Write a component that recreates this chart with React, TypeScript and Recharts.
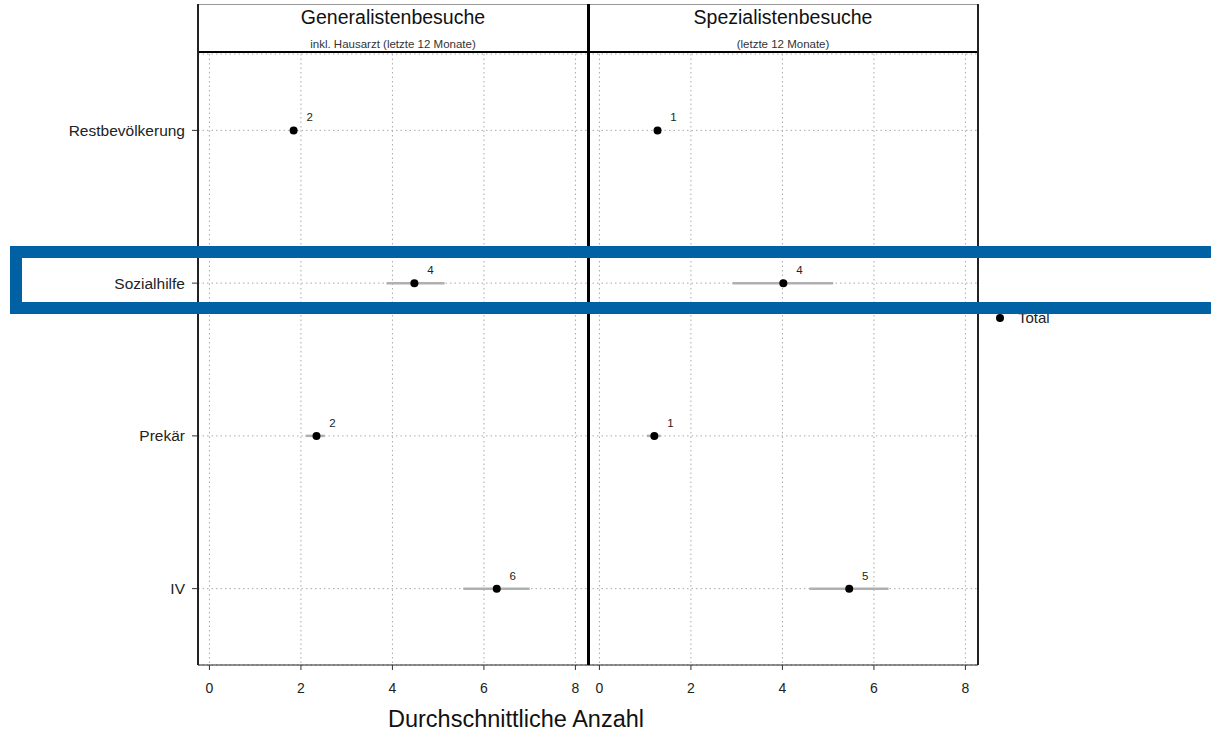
import React from 'react';
import {
  ScatterChart,
  Scatter,
  XAxis,
  YAxis,
  CartesianGrid,
  ErrorBar,
} from 'recharts';

// Groups shown top to bottom
const groups = ['Restbevölkerung', 'Sozialhilfe', 'Prekär', 'IV'];

// Generalist visits incl. GP (last 12 months): mean and interval bounds
const generalMean = [1.84, 4.48, 2.34, 6.28];
const generalLow = [1.8, 3.87, 2.1, 5.55];
const generalHigh = [1.88, 5.14, 2.52, 7.0];

// Specialist visits (last 12 months)
const specialMean = [1.27, 4.02, 1.2, 5.46];
const specialLow = [1.24, 2.91, 1.04, 4.59];
const specialHigh = [1.3, 5.11, 1.34, 6.32];

const xTicks = [0, 2, 4, 6, 8];
const rowTicks = [0, 1, 2, 3];

const FONT = '"Liberation Sans", Arial, sans-serif';
const PLOT_TOP = 54;
const PLOT_BOTTOM = 665;
const CHART_H = 735;

const buildRows = (mean: number[], low: number[], high: number[]) =>
  mean.map((m, i) => ({
    row: i,
    mean: m,
    err: [m - low[i], high[i] - m],
    label: Math.round(m),
  }));

const generalRows = buildRows(generalMean, generalLow, generalHigh);
const specialRows = buildRows(specialMean, specialLow, specialHigh);

const PointWithLabel = (props: any) => {
  const { cx, cy, payload } = props;
  if (cx == null || cy == null) return null;
  return (
    <g>
      <circle cx={cx} cy={cy} r={4} fill="#000" />
      <text
        x={cx + 16}
        y={cy - 9}
        textAnchor="middle"
        fontSize={11.5}
        fill="#222"
        fontFamily={FONT}
      >
        {payload.label}
      </text>
    </g>
  );
};

type PanelProps = {
  rows: ReturnType<typeof buildRows>;
  width: number;
  showGroups: boolean;
};

function Panel({ rows, width, showGroups }: PanelProps) {
  return (
    <ScatterChart
      width={width}
      height={CHART_H}
      margin={{ top: PLOT_TOP, right: 0, bottom: 0, left: 0 }}
    >
      <CartesianGrid stroke="#aaa" strokeDasharray="1.5 3" />
      <XAxis
        type="number"
        dataKey="mean"
        domain={[-0.25, 8.275]}
        ticks={xTicks}
        allowDataOverflow
        height={CHART_H - PLOT_BOTTOM}
        tickSize={5}
        tickMargin={13}
        axisLine={{ stroke: '#222' }}
        tickLine={{ stroke: '#333' }}
        tick={{ fill: '#222', fontSize: 14, fontFamily: FONT }}
      />
      <YAxis
        type="number"
        dataKey="row"
        domain={[-0.5, 3.5]}
        ticks={rowTicks}
        reversed
        allowDataOverflow
        hide={!showGroups}
        width={198}
        tickSize={6}
        tickMargin={7}
        axisLine={{ stroke: '#222' }}
        tickLine={{ stroke: '#333' }}
        tick={{ fill: '#222', fontSize: 15.5, fontFamily: FONT }}
        tickFormatter={(v: number) => groups[v]}
      />
      <Scatter data={rows} shape={PointWithLabel} isAnimationActive={false}>
        <ErrorBar
          dataKey="err"
          direction="x"
          width={0}
          stroke="#b0b0b0"
          strokeWidth={2.5}
          isAnimationActive={false}
        />
      </Scatter>
    </ScatterChart>
  );
}

const stripBox: React.CSSProperties = {
  position: 'absolute',
  top: 4,
  height: 49,
  boxSizing: 'border-box',
  borderTop: '1px solid #999',
  borderBottom: '2px solid #000',
  background: '#fff',
  textAlign: 'center',
  color: '#111',
};

function Strip({ left, width, title, sub }: { left: number; width: number; title: string; sub: string }) {
  return (
    <div style={{ ...stripBox, left, width }}>
      <div style={{ fontSize: 19.5, marginTop: 0, lineHeight: '24px' }}>{title}</div>
      <div style={{ fontSize: 11.5, marginTop: 9, lineHeight: '12px', color: '#333' }}>{sub}</div>
    </div>
  );
}

export default function App() {
  return (
    <div
      style={{
        position: 'fixed',
        left: 0,
        top: 0,
        width: 1211,
        height: 735,
        background: '#fff',
        overflow: 'hidden',
        fontFamily: FONT,
      }}
    >
      <div style={{ position: 'absolute', left: 0, top: 0 }}>
        <Panel rows={generalRows} width={588} showGroups />
      </div>
      <div style={{ position: 'absolute', left: 588, top: 0 }}>
        <Panel rows={specialRows} width={390} showGroups={false} />
      </div>

      <Strip left={198} width={390} title="Generalistenbesuche" sub="inkl. Hausarzt (letzte 12 Monate)" />
      <Strip left={588} width={390} title="Spezialistenbesuche" sub="(letzte 12 Monate)" />

      {/* panel frames */}
      <div style={{ position: 'absolute', left: 197, top: 4, width: 1.5, height: PLOT_BOTTOM - 4, background: '#222' }} />
      <div style={{ position: 'absolute', left: 587, top: 4, width: 2.5, height: PLOT_BOTTOM - 4, background: '#000' }} />
      <div style={{ position: 'absolute', left: 977, top: 4, width: 1.5, height: PLOT_BOTTOM - 4, background: '#222' }} />

      {/* legend */}
      <div style={{ position: 'absolute', left: 996, top: 309, display: 'flex', alignItems: 'center', fontSize: 15, color: '#222' }}>
        <span style={{ width: 8, height: 8, borderRadius: 4, background: '#000', display: 'inline-block', marginRight: 14 }} />
        <span>Total</span>
      </div>

      <div
        style={{
          position: 'absolute',
          top: 706,
          left: 388,
          fontSize: 23.5,
          color: '#111',
          whiteSpace: 'nowrap',
        }}
      >
        Durchschnittliche Anzahl
      </div>

      {/* highlight frame around the Sozialhilfe row */}
      <div
        style={{
          position: 'absolute',
          left: 10,
          top: 246,
          width: 1230,
          height: 68,
          boxSizing: 'border-box',
          border: '12px solid #0062a4',
        }}
      />
    </div>
  );
}
